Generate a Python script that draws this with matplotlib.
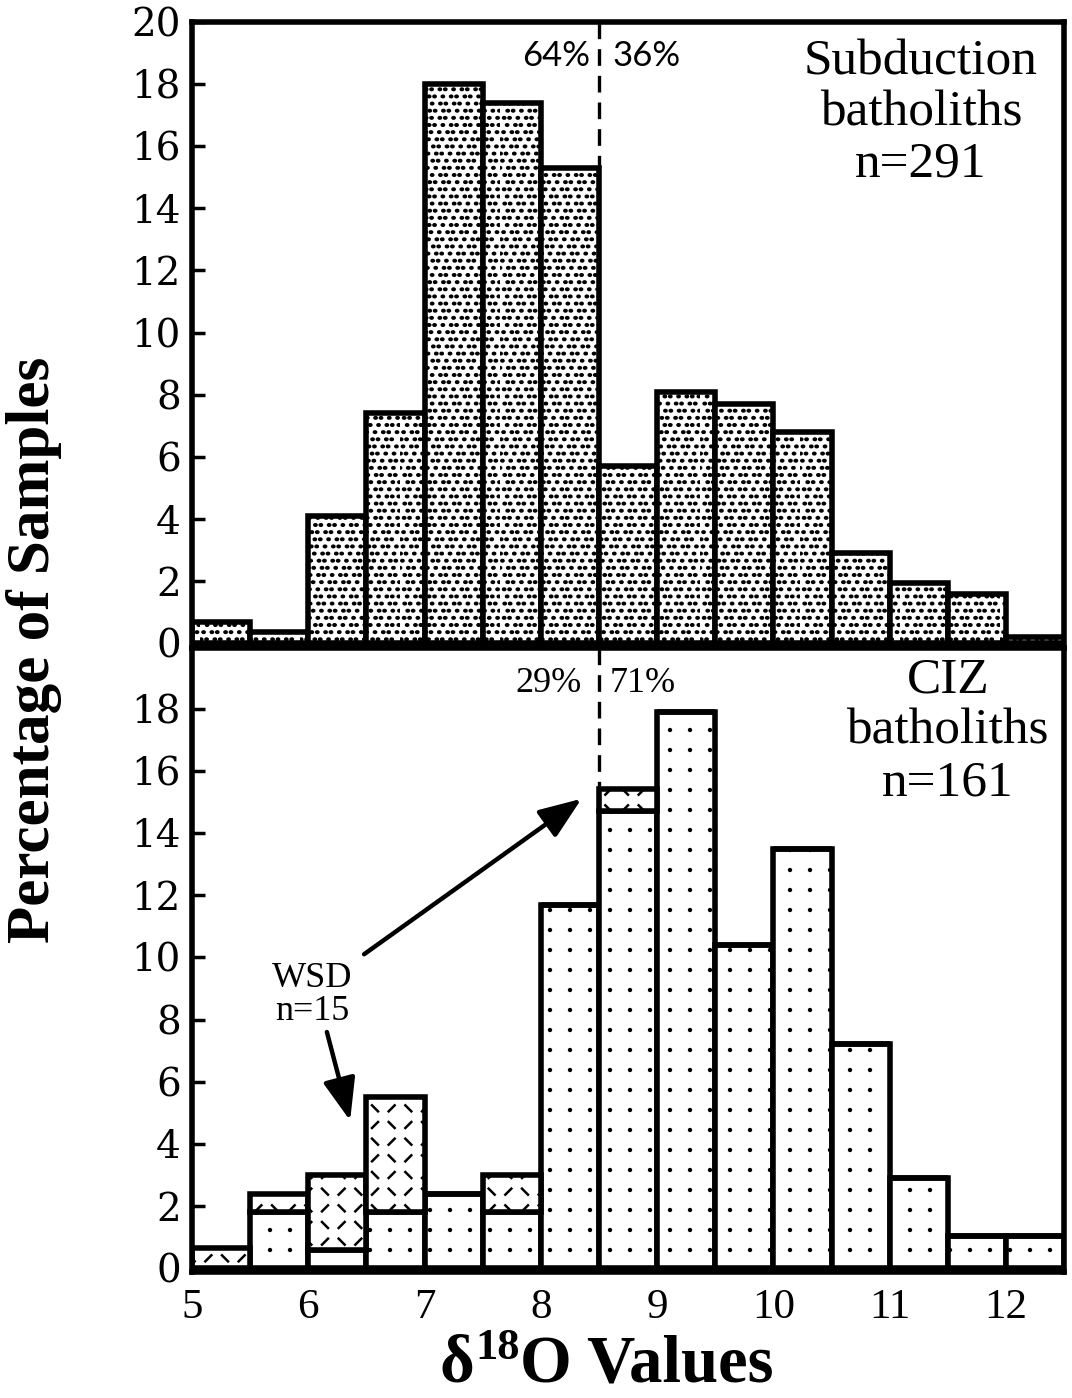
import warnings
import numpy as np
import matplotlib
matplotlib.use("Agg")
import matplotlib.pyplot as plt
import matplotlib.hatch as mhatch
from matplotlib.path import Path

warnings.filterwarnings("ignore")

# ---- data: percentage of samples per 0.5 permil d18O bin ----
bin_left = [5.0, 5.5, 6.0, 6.5, 7.0, 7.5, 8.0, 8.5, 9.0, 9.5, 10.0, 10.5, 11.0, 11.5, 12.0]
bin_width = 0.5
subduction_pct = [0.7, 0.35, 4.1, 7.4, 18.0, 17.4, 15.3, 5.7, 8.1, 7.7, 6.8, 2.9, 1.95, 1.6, 0.2]
ciz_other_pct = [0.0, 1.8, 0.6, 1.8, 2.4, 1.8, 11.7, 14.7, 17.9, 10.4, 13.5, 7.2, 2.9, 1.05, 1.05]
wsd_pct = [0.65, 0.6, 2.4, 3.7, 0.0, 1.2, 0.0, 0.7, 0.0, 0.0, 0.0, 0.0, 0.0, 0.0, 0.0]
split_value = 8.5
subduction_split = ["64%", "36%"]
ciz_split = ["29%", "71%"]
x_ticks = [5, 6, 7, 8, 9, 10, 11, 12]
top_y_ticks = list(range(0, 21, 2))
bottom_y_ticks = list(range(0, 19, 2))


# ---- fill textures ----
class _Stipple(mhatch.HatchPatternBase):
    """Dense staggered stipple ('p')."""
    def __init__(self, hatch, density):
        self.n = 14 * hatch.count('p')
        circ = Path.unit_circle()
        self.cv, self.cc = circ.vertices, circ.codes
        self.num_vertices = self.n * self.n * len(self.cv)

    def set_vertices_and_codes(self, vertices, codes):
        n, m = self.n, len(self.cv)
        step = 1.0 / n
        k = 0
        for j in range(n):
            for i in range(n):
                shift = 0.5 * step if j % 2 else 0.0
                jitter = ((i * 7 + j * 3) % 5 - 2) * 0.08 * step
                cx = (i * step + shift + jitter) % 1.0
                cy = (j + 0.5) * step
                vertices[k:k + m] = self.cv * (0.011, 0.0075) + (cx, cy)
                codes[k:k + m] = self.cc
                k += m


class _GridDots(mhatch.HatchPatternBase):
    """Sparse regular grid of dots ('g')."""
    def __init__(self, hatch, density):
        self.n = 5 * hatch.count('g')
        circ = Path.unit_circle()
        self.cv, self.cc = circ.vertices, circ.codes
        self.num_vertices = self.n * self.n * len(self.cv)

    def set_vertices_and_codes(self, vertices, codes):
        n, m = self.n, len(self.cv)
        step = 1.0 / n
        k = 0
        for j in range(n):
            for i in range(n):
                vertices[k:k + m] = self.cv * 0.009 + ((i + 0.5) * step, (j + 0.5) * step)
                codes[k:k + m] = self.cc
                k += m


class _WeaveDashes(mhatch.HatchPatternBase):
    """Short dashes alternating '/' and '\\' on a checkerboard ('w')."""
    def __init__(self, hatch, density):
        self.n = 6 * hatch.count('w')
        self.num_vertices = self.n * self.n * 2

    def set_vertices_and_codes(self, vertices, codes):
        n = self.n
        step = 1.0 / n
        half = 0.18 * step
        k = 0
        for j in range(n):
            for i in range(n):
                cx, cy = (i + 0.5) * step, (j + 0.5) * step
                s = 1 if (i + j) % 2 == 0 else -1
                vertices[k] = (cx - half, cy - s * half)
                vertices[k + 1] = (cx + half, cy + s * half)
                codes[k] = Path.MOVETO
                codes[k + 1] = Path.LINETO
                k += 2


mhatch._hatch_types.extend([_Stipple, _GridDots, _WeaveDashes])

plt.rcParams["hatch.linewidth"] = 1.8
plt.rcParams["hatch.color"] = "black"

SERIF = ["Liberation Serif", "DejaVu Serif"]
TICK_SERIF = ["DejaVu Serif"]
SANS = ["Lato", "DejaVu Sans"]

fig = plt.figure(figsize=(10.72, 13.98), dpi=100)
ax1 = fig.add_axes([0.1791, 0.5365, 0.8135, 0.4478])
ax2 = fig.add_axes([0.1791, 0.0901, 0.8135, 0.4464])

bar_kw = dict(width=bin_width, align="edge", facecolor="white",
              edgecolor="black", linewidth=4.0)

# ---- top panel: subduction batholiths ----
ax1.bar(bin_left, subduction_pct, hatch="p", **bar_kw)
ax1.set_xlim(5, 12.5)
ax1.set_ylim(-0.15, 20)
ax1.set_yticks(top_y_ticks)
ax1.set_xticks([])
top_bar = subduction_pct[bin_left.index(split_value - bin_width)]
ax1.plot([split_value, split_value], [20, top_bar], color="black", lw=2.4,
         dashes=(5, 3), zorder=3)
ax1.text(split_value - 0.08, 18.9, subduction_split[0], ha="right", va="center",
         fontsize=25, family=SANS)
ax1.text(split_value + 0.12, 18.9, subduction_split[1], ha="left", va="center",
         fontsize=25, family=SANS)
ax1.text(11.27, 19.45, "Subduction\nbatholiths\nn=291", ha="center", va="top",
         fontsize=37, family=SERIF, linespacing=1.13)

# ---- bottom panel: CIZ batholiths with WSD subset stacked on top ----
ax2.bar(bin_left, ciz_other_pct, hatch="g", **bar_kw)
ax2.bar(bin_left, wsd_pct, bottom=ciz_other_pct, hatch="w", **bar_kw)
ax2.set_xlim(5, 12.5)
ax2.set_ylim(-0.12, 19.95)
ax2.set_yticks(bottom_y_ticks)
ax2.set_xticks(x_ticks)
ax2.set_xticklabels([str(v) for v in x_ticks])
i_split = bin_left.index(split_value)
ciz_bar = ciz_other_pct[i_split] + wsd_pct[i_split]
ax2.plot([split_value, split_value], [19.95, ciz_bar], color="black", lw=2.4,
         dashes=(5, 3), zorder=3)
ax2.text(split_value - 0.15, 18.8, ciz_split[0], ha="right", va="center",
         fontsize=26, family=SERIF)
ax2.text(split_value + 0.09, 18.8, ciz_split[1], ha="left", va="center",
         fontsize=26, family=SERIF)
ax2.text(11.5, 19.65, "CIZ\nbatholiths\nn=161", ha="center", va="top",
         fontsize=37, family=SERIF, linespacing=1.13)
ax2.text(6.03, 8.8, "WSD\nn=15", ha="center", va="center",
         fontsize=26, family=SERIF, linespacing=1.0)
arrow_kw = dict(arrowstyle="-|>,head_length=1.3,head_width=0.5", lw=3.2,
                color="black", mutation_scale=20, shrinkA=0, shrinkB=0)
ax2.annotate("", xy=(8.35, 15.1), xytext=(6.48, 10.1), arrowprops=arrow_kw)
ax2.annotate("", xy=(6.36, 4.75), xytext=(6.16, 7.6), arrowprops=arrow_kw)

# ---- axes styling ----
for ax in (ax1, ax2):
    for sp in ax.spines.values():
        sp.set_linewidth(4.0)
    ax.tick_params(axis="y", direction="in", length=9, width=2.5, pad=8,
                   labelsize=28)
    for lab in ax.get_yticklabels():
        lab.set_family(TICK_SERIF)
ax2.tick_params(axis="x", length=0, pad=12, labelsize=31)
for lab in ax2.get_xticklabels():
    lab.set_family(SERIF)

# ---- axis titles ----
fig.text(0.032, 0.535, "Percentage of Samples", rotation=90, ha="center",
         va="center", fontsize=44, fontweight="bold", family=SERIF)

fig.canvas.draw()
renderer = fig.canvas.get_renderer()
inv = fig.transFigure.inverted()
x0, ybase = 440 / 1072, 0.012
label_font = dict(fontweight="bold", family=SERIF)
t1 = fig.text(x0, ybase, "δ", fontsize=48, ha="left", va="baseline", **label_font)
x1 = inv.transform(t1.get_window_extent(renderer).get_points())[1, 0]
t2 = fig.text(x1 + 0.001, ybase + 0.016, "18", fontsize=32, ha="left",
              va="baseline", **label_font)
x2 = inv.transform(t2.get_window_extent(renderer).get_points())[1, 0]
fig.text(x2, ybase, "O Values", fontsize=48, ha="left", va="baseline", **label_font)

fig.savefig("out.png", dpi=100)
